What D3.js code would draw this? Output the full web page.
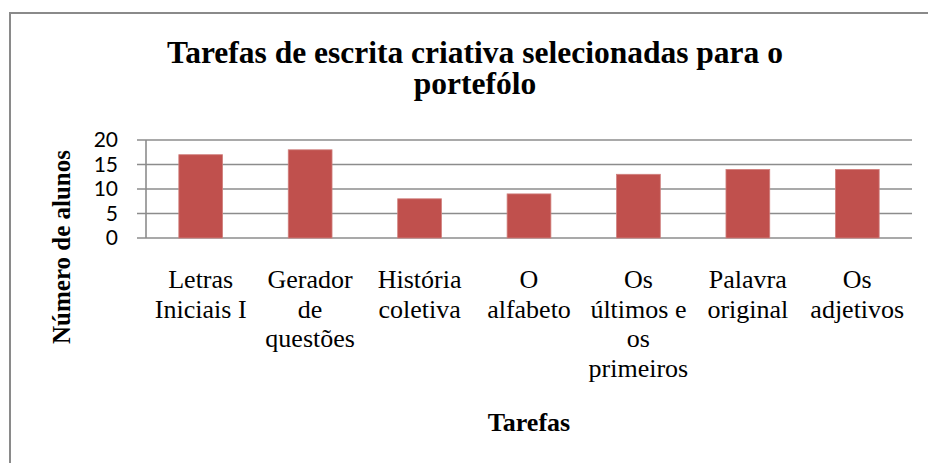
<!DOCTYPE html>
<html>
<head>
<meta charset="utf-8">
<script src="https://d3js.org/d3.v7.min.js"></script>
<style>
body { margin: 0; background: #fff; }
svg { display: block; }
.tick text { font-family: Lato, 'Liberation Sans', sans-serif; }
</style>
</head>
<body>
<div id="chart"></div>
<script>

var width = 928;
var height = 463;

// data
var tarefas = ["Letras Iniciais I", "Gerador de questões", "História coletiva", "O alfabeto",
	"Os últimos e os primeiros", "Palavra original", "Os adjetivos"];
var alunos = [17, 18, 8, 9, 13, 14, 14];
var yTicks = [0, 5, 10, 15, 20];

var titulo = ["Tarefas de escrita criativa selecionadas para o", "portefólo"];
var tituloY = "Número de alunos";
var tituloX = "Tarefas";

var plot = { left: 146, right: 912, top: 140, bottom: 238 };

var svg = d3.select("#chart").append("svg")
	.attr("width", width).attr("height", height);

// outer chart border (runs past the right and bottom edge)
svg.append("rect")
	.attr("x", 10).attr("y", 13)
	.attr("width", 930).attr("height", 480)
	.style("fill", "#fff")
	.style("stroke", "#8a8a8a")
	.style("stroke-width", 2);

var xScale = d3.scaleBand()
	.domain(tarefas)
	.range([plot.left, plot.right]);

var yScale = d3.scaleLinear()
	.domain([0, 20])
	.range([plot.bottom, plot.top]);

// gridlines
svg.selectAll("line.grid").data(yTicks).enter().append("line")
	.attr("class", "grid")
	.attr("x1", plot.left - 9).attr("x2", plot.right)
	.attr("y1", function(d) { return yScale(d); })
	.attr("y2", function(d) { return yScale(d); })
	.style("stroke", "#8c8c8c")
	.style("stroke-width", 1.6);

// y axis line
svg.append("line")
	.attr("x1", plot.left).attr("x2", plot.left)
	.attr("y1", plot.top).attr("y2", plot.bottom)
	.style("stroke", "#8c8c8c")
	.style("stroke-width", 1.6);

// y tick labels
var yAxis = svg.append("g")
	.attr("transform", "translate(" + (plot.left - 28) + ",0)")
	.call(d3.axisLeft(yScale).tickValues(yTicks).tickSize(0).tickPadding(0));
yAxis.select(".domain").remove();
yAxis.selectAll("text")
	.style("font-size", "21px")
	.style("fill", "#000");

// bars
var barW = xScale.bandwidth() * 0.4;
svg.selectAll("rect.bar").data(alunos).enter().append("rect")
	.attr("class", "bar")
	.attr("x", function(d, i) { return xScale(tarefas[i]) + (xScale.bandwidth() - barW) / 2; })
	.attr("y", function(d) { return yScale(d); })
	.attr("width", barW)
	.attr("height", function(d) { return plot.bottom - yScale(d); })
	.style("fill", "#c0504d")
	.style("stroke", "#d0807e")
	.style("stroke-width", 0.8);

// category labels, wrapped to the band width
var labels = svg.selectAll("text.cat").data(tarefas).enter().append("text")
	.attr("class", "cat")
	.attr("text-anchor", "middle")
	.style("font-family", "'Liberation Serif', 'Times New Roman', serif")
	.style("font-size", "26px")
	.style("fill", "#000");

labels.each(function(d) {
	var el = d3.select(this);
	var cx = xScale(d) + xScale.bandwidth() / 2;
	var words = d.split(" ");
	var lines = [];
	var cur = "";
	var probe = el.append("tspan");
	words.forEach(function(w) {
		var test = cur ? cur + " " + w : w;
		probe.text(test);
		if (cur && probe.node().getComputedTextLength() > 104) {
			lines.push(cur);
			cur = w;
		} else {
			cur = test;
		}
	});
	lines.push(cur);
	probe.remove();
	lines.forEach(function(l, i) {
		el.append("tspan")
			.attr("x", cx)
			.attr("y", 288 + i * 29.7)
			.text(l);
	});
});

// title
svg.selectAll("text.title").data(titulo).enter().append("text")
	.attr("class", "title")
	.attr("x", 475)
	.attr("y", function(d, i) { return 63 + i * 31; })
	.attr("text-anchor", "middle")
	.style("font-family", "'Liberation Serif', 'Times New Roman', serif")
	.style("font-weight", "bold")
	.style("font-size", "31.5px")
	.style("fill", "#000")
	.text(function(d) { return d; });

// axis titles
svg.append("text")
	.attr("transform", "translate(70,247) rotate(-90)")
	.attr("text-anchor", "middle")
	.style("font-family", "'Liberation Serif', 'Times New Roman', serif")
	.style("font-weight", "bold")
	.style("font-size", "25px")
	.text(tituloY);

svg.append("text")
	.attr("x", (plot.left + plot.right) / 2)
	.attr("y", 431)
	.attr("text-anchor", "middle")
	.style("font-family", "'Liberation Serif', 'Times New Roman', serif")
	.style("font-weight", "bold")
	.style("font-size", "26px")
	.text(tituloX);

</script>
</body>
</html>
